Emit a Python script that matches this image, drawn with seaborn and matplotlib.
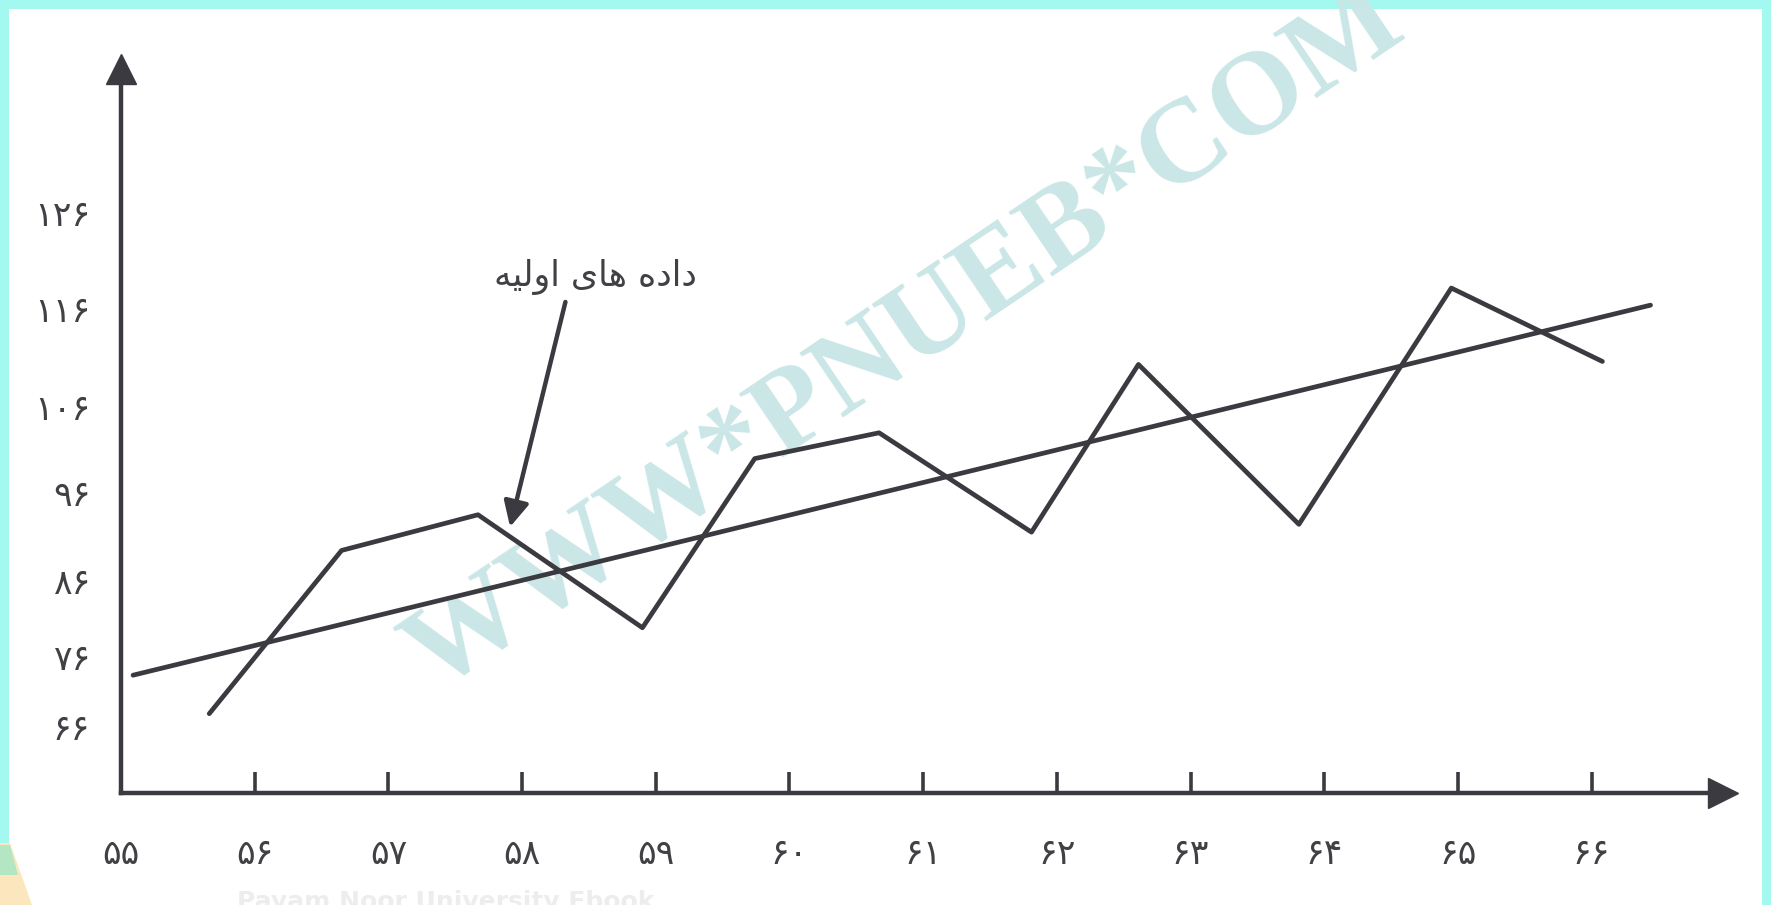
import numpy as np
import matplotlib
matplotlib.use("Agg")
import matplotlib.pyplot as plt
from matplotlib.patches import Rectangle, Polygon
import seaborn as sns

# --- data ---
YEARS = list(range(55, 67))                      # x axis labels (1355..1366)
Y_TICKS = [66, 76, 86, 96, 106, 116, 126]

raw_x = [55.66, 56.65, 57.67, 58.90, 59.74, 60.67, 61.81, 62.61, 63.81, 64.95, 66.08]
raw_y = [67.9, 89.4, 93.5, 79.8, 100.0, 103.0, 91.5, 110.3, 92.4, 118.1, 110.6]

trend_x = [55.09, 66.44]
trend_y = [73.4, 116.3]

# "داده های اولیه" written with presentation forms in visual order
LABEL = "\ufeea\ufef4\ufedf\ufeed\ufe8d \ufeef\ufe8e\ufeeb \ufee9\ufea9\ufe8d\ufea9"
WATERMARK = "WWW*PNUEB*COM"

# --- style ---
W, H = 1771, 905
LINE = "#3a3a40"
TEXT = "#404045"
BORDER = "#a3f8f0"
WM_COLOR = "#cae6e6"

sns.set_theme(style="white")
plt.rcParams['font.family'] = ['DejaVu Sans']

FA = str.maketrans('0123456789', '\u06f0\u06f1\u06f2\u06f3\u06f4\u06f5\u06f6\u06f7\u06f8\u06f9')


def fa(n):
    return str(n).translate(FA)


# the printed y labels are not evenly spaced in the book, so use a piecewise scale
# (height above the x axis in px for each labelled value)
TICK_POS = [66, 136, 213, 300, 386, 485, 580]


def _pw(v, xs, ys):
    v = np.asarray(v, dtype=float)
    out = np.interp(v, xs, ys)
    lo_s = (ys[1] - ys[0]) / (xs[1] - xs[0])
    hi_s = (ys[-1] - ys[-2]) / (xs[-1] - xs[-2])
    out = np.where(v < xs[0], ys[0] + (v - xs[0]) * lo_s, out)
    out = np.where(v > xs[-1], ys[-1] + (v - xs[-1]) * hi_s, out)
    return out


def y_fwd(v):
    return _pw(v, Y_TICKS, TICK_POS)


def y_inv(p):
    return _pw(p, TICK_POS, Y_TICKS)


fig = plt.figure(figsize=(W / 100, H / 100), dpi=100)
fig.patch.set_facecolor(BORDER)
fig.add_artist(Rectangle((9 / W, 0), (W - 18) / W, (H - 9) / H, transform=fig.transFigure,
                         facecolor="white", edgecolor="none", zorder=-2))
fig.add_artist(Polygon([(0, 0), (0, 62 / H), (10 / W, 62 / H), (32 / W, 0)], closed=True,
                       transform=fig.transFigure, facecolor="#fbe6bd", edgecolor="none", zorder=-1))
fig.add_artist(Polygon([(0, 30 / H), (0, 60 / H), (10 / W, 60 / H), (18 / W, 30 / H)], closed=True,
                       transform=fig.transFigure, facecolor="#b5e6c4", edgecolor="none", zorder=-1))

# axes from the y axis (x=121px) to the arrow heads
x0, y0, x1, y1 = 121, 793, 1723, 69
ax = fig.add_axes([x0 / W, (H - y0) / H, (x1 - x0) / W, (y0 - y1) / H])
ax.patch.set_alpha(0)
ax.set_yscale('function', functions=(y_fwd, y_inv))

sns.lineplot(x=raw_x, y=raw_y, sort=False, color=LINE, lw=3.4, ax=ax, zorder=3)
sns.lineplot(x=trend_x, y=trend_y, sort=False, color=LINE, lw=3.4, ax=ax, zorder=3)

ax.set_xlim(55, 55 + (x1 - x0) / 133.7)
ax.set_ylim(float(y_inv(0)), float(y_inv(y0 - y1)))

# axes with arrow heads
for s in ['top', 'right']:
    ax.spines[s].set_visible(False)
for s in ['left', 'bottom']:
    ax.spines[s].set_color(LINE)
    ax.spines[s].set_linewidth(3.2)
ax.plot(1, 0, '>', ms=21, color=LINE, transform=ax.transAxes, clip_on=False)
ax.plot(0, 1, '^', ms=21, color=LINE, transform=ax.transAxes, clip_on=False)

ax.set_xticks(YEARS)
ax.set_xticklabels([fa(y) for y in YEARS])
ax.set_yticks(Y_TICKS)
ax.set_yticklabels([fa(y) for y in Y_TICKS])
ax.tick_params(axis='x', direction='in', length=15, width=2.6, color=LINE, pad=32,
               labelsize=25, labelcolor=TEXT, bottom=True)
ax.tick_params(axis='y', length=0, pad=22, labelsize=25, labelcolor=TEXT, left=True)
ax.set_xlabel('')
ax.set_ylabel('')
ax.grid(False)

ax.annotate(LABEL, xy=(57.91, 92.1), xytext=(58.55, 119.3), ha='center', va='center',
            fontsize=25, color=TEXT, zorder=4,
            arrowprops=dict(arrowstyle='-|>', color=LINE, lw=3.2, mutation_scale=38,
                            shrinkA=3, shrinkB=0, relpos=(0.36, 0)))

# site watermark from the scan
ax.text(905 / W, 1 - 340 / H, WATERMARK, transform=fig.transFigure, rotation=34,
        rotation_mode='anchor', ha='center', va='center', fontsize=86, fontweight='bold',
        family='Liberation Serif', color=WM_COLOR, zorder=1, clip_on=False)

fig.text(446 / W, 3 / H, 'Payam Noor University Ebook', color='#ededed', fontsize=18,
         fontweight='bold', ha='center', va='center')

fig.savefig("out.png", dpi=100, facecolor=fig.get_facecolor())
